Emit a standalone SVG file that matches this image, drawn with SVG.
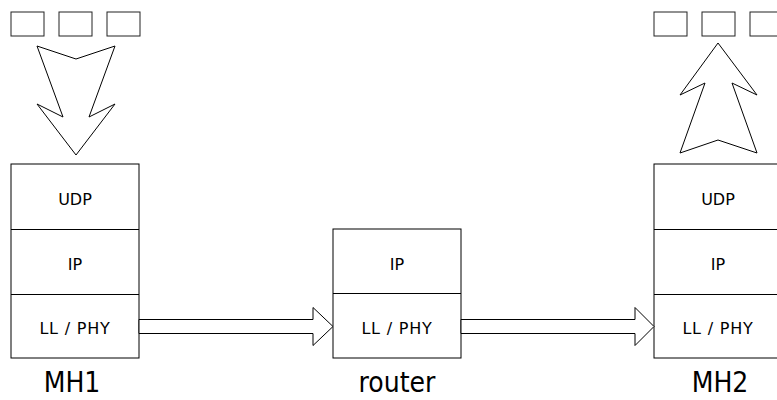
<svg xmlns="http://www.w3.org/2000/svg" width="777" height="400" viewBox="0 0 777 400">
<style>
.box{fill:#fff;stroke:#000;stroke-width:1}
.div{stroke:#000;stroke-width:1}
.pkt{fill:#fff;stroke:#222;stroke-width:1}
.big{fill:#fff;stroke:#000;stroke-width:1;stroke-linejoin:miter}
.lt{font-family:"DejaVu Sans",Verdana,sans-serif;font-size:16px;text-anchor:middle;fill:#000}
.ll{letter-spacing:0.8px}
.nm{font-family:"DejaVu Sans Condensed","DejaVu Sans",sans-serif;font-stretch:condensed;font-size:28px;text-anchor:middle;fill:#000}
</style>
<rect width="777" height="400" fill="#fff"/>
<g id="mh1">
<rect class="pkt" x="11" y="12" width="33" height="24"/>
<rect class="pkt" x="59" y="12" width="33" height="24"/>
<rect class="pkt" x="107" y="12" width="33" height="24"/>
<polygon class="big" points="37,46 76,59 115,46 89,117 115,104 76,155 37,104 63,117"/>
<rect class="box" x="11" y="164" width="128" height="194"/>
<line class="div" x1="11" y1="229.5" x2="139" y2="229.5"/>
<line class="div" x1="11" y1="294.5" x2="139" y2="294.5"/>
<text class="lt" x="75" y="205">UDP</text>
<text class="lt" x="75" y="270">IP</text>
<text class="lt ll" x="75" y="334">LL / PHY</text>
<text class="nm" x="72" y="392">MH1</text>
</g>
<g id="router">
<rect class="box" x="333" y="229" width="128" height="129"/>
<line class="div" x1="333" y1="293.5" x2="461" y2="293.5"/>
<text class="lt" x="397" y="270">IP</text>
<text class="lt ll" x="397" y="334">LL / PHY</text>
<text class="nm" x="397" y="392">router</text>
</g>
<g id="mh2">
<rect class="pkt" x="654" y="12" width="33" height="24"/>
<rect class="pkt" x="702" y="12" width="33" height="24"/>
<rect class="pkt" x="750" y="12" width="33" height="24"/>
<polygon class="big" points="718,43 757,95 732,83 757,153 718,140 680,153 705,83 680,95"/>
<rect class="box" x="654" y="164" width="128" height="194"/>
<line class="div" x1="654" y1="229.5" x2="782" y2="229.5"/>
<line class="div" x1="654" y1="294.5" x2="782" y2="294.5"/>
<text class="lt" x="718" y="205">UDP</text>
<text class="lt" x="718" y="270">IP</text>
<text class="lt ll" x="718" y="334">LL / PHY</text>
<text class="nm" x="720" y="392">MH2</text>
</g>
<g id="connectors">
<polygon class="big" points="139,319.5 313,319.5 313,307.5 333,326.5 313,345.5 313,333.5 139,333.5"/>
<polygon class="big" points="461,319.5 635,319.5 635,307.5 654,326.5 635,345.5 635,333.5 461,333.5"/>
</g>
</svg>
